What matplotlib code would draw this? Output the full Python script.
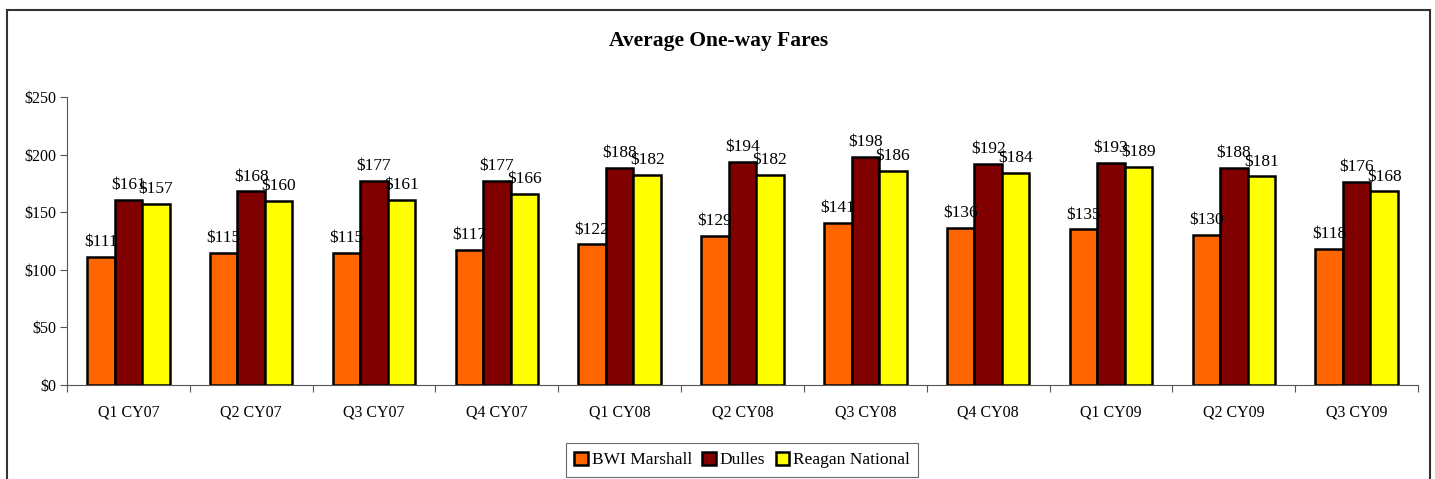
import matplotlib
matplotlib.use("Agg")
import matplotlib.pyplot as plt
from matplotlib.patches import Rectangle
import numpy as np

plt.rcParams['font.family'] = ['Liberation Serif', 'DejaVu Serif']

# data
quarters = ["Q1 CY07", "Q2 CY07", "Q3 CY07", "Q4 CY07", "Q1 CY08", "Q2 CY08",
            "Q3 CY08", "Q4 CY08", "Q1 CY09", "Q2 CY09", "Q3 CY09"]
bwi = [111, 115, 115, 117, 122, 129, 141, 136, 135, 130, 118]
dulles = [161, 168, 177, 177, 188, 194, 198, 192, 193, 188, 176]
reagan = [157, 160, 161, 166, 182, 182, 186, 184, 189, 181, 168]
series_names = ["BWI Marshall", "Dulles", "Reagan National"]
colors = ["#FF6600", "#800000", "#FFFF00"]

fig = plt.figure(figsize=(14.35, 4.79), dpi=100)
ax = fig.add_axes([67/1435, 1 - 385/479, (1418 - 67)/1435, (385 - 97)/479])

# outer chart frame
fig.add_artist(Rectangle((7/1435, -0.05), (1430 - 7)/1435, 1 - 10/479 + 0.05,
                         transform=fig.transFigure, fill=False,
                         edgecolor="#333333", linewidth=1.5))

x = np.arange(len(quarters))
w = 0.224
for i, (vals, name, c) in enumerate(zip([bwi, dulles, reagan], series_names, colors)):
    bars = ax.bar(x + (i - 1) * w, vals, width=w, color=c, edgecolor="black",
                  linewidth=1.8, label=name, zorder=2)
    for b, v in zip(bars, vals):
        ax.annotate(f"${v}", (b.get_x() + b.get_width() / 2, v),
                    xytext=(0, 5), textcoords="offset points",
                    ha="center", va="bottom", fontsize=12.5, zorder=3)

ax.set_xlim(-0.5, len(quarters) - 0.5)
ax.set_ylim(0, 250)
ax.set_yticks(range(0, 251, 50))
ax.set_yticklabels([f"${v}" for v in range(0, 251, 50)], fontsize=11.5)
ax.set_xticks(np.arange(-0.5, len(quarters), 1.0))
ax.set_xticklabels([])
ax.set_xticks(x, minor=True)
ax.set_xticklabels(quarters, minor=True, fontsize=11.5)
ax.tick_params(axis="x", which="minor", length=0, pad=14)
ax.tick_params(axis="x", which="major", length=5, color="#555555")
ax.tick_params(axis="y", length=5, color="#555555", pad=3)
for s in ["top", "right"]:
    ax.spines[s].set_visible(False)
for s in ["left", "bottom"]:
    ax.spines[s].set_color("#555555")

fig.text(719/1435, 1 - 41/479, "Average One-way Fares", ha="center", va="center",
         fontsize=15.5, fontweight="bold")

leg = fig.legend(loc="center", bbox_to_anchor=(742/1435, 1 - 460/479), ncol=3,
                 fontsize=12.5, frameon=True, fancybox=False, edgecolor="#444444",
                 handlelength=0.8, handleheight=0.8, handletextpad=0.2,
                 columnspacing=0.6, borderpad=0.5)
leg.get_frame().set_linewidth(0.8)

fig.savefig("out.png", dpi=100)
